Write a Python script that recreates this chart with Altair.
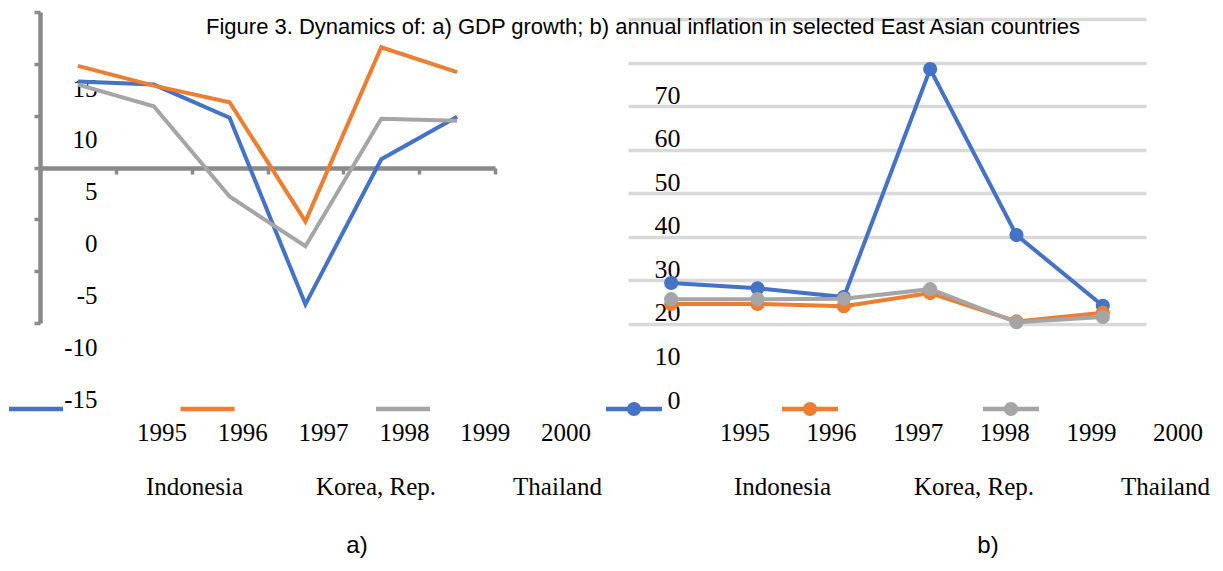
import altair as alt
import pandas as pd

years = [1995, 1996, 1997, 1998, 1999, 2000]
countries = ["Indonesia", "Korea, Rep.", "Thailand"]
colors = ["#4472C4", "#ED7D31", "#A5A5A5"]

# a) GDP growth, %
gdp_indonesia = [8.3, 8.0, 4.8, -13.2, 0.8, 4.9]
gdp_korea = [9.8, 7.9, 6.3, -5.2, 11.6, 9.2]
gdp_thailand = [8.0, 5.9, -2.8, -7.6, 4.7, 4.5]

# b) annual inflation, %
infl_indonesia = [9.4, 8.2, 6.2, 58.5, 20.4, 4.2]
infl_korea = [4.6, 4.6, 4.1, 7.1, 0.6, 2.6]
infl_thailand = [5.7, 5.7, 5.8, 8.0, 0.4, 1.6]

gdp_ticks = [-15, -10, -5, 0, 5, 10, 15]
infl_ticks = [0, 10, 20, 30, 40, 50, 60, 70]
title_text = "Figure 3. Dynamics of: a) GDP growth; b) annual inflation in selected East Asian countries"
panel_labels = ["a)", "b)"]

gdp_df = pd.DataFrame(
    [{"country": c, "year": y, "gdp": v}
     for c, vals in zip(countries, [gdp_indonesia, gdp_korea, gdp_thailand])
     for y, v in zip(years, vals)]
)
infl_df = pd.DataFrame(
    [{"country": c, "year": y, "infl": v}
     for c, vals in zip(countries, [infl_indonesia, infl_korea, infl_thailand])
     for y, v in zip(years, vals)]
)
years_df = pd.DataFrame({"year": years})
countries_df = pd.DataFrame({"country": countries})

W, H = 1207, 555
AX = "#8a8a8a"
SERIF = "Liberation Serif"
SANS = "Liberation Sans"

color_enc = alt.Color("country:N", scale=alt.Scale(domain=countries, range=colors), legend=None)

# ---- panel a) GDP growth
left = alt.Chart(gdp_df).mark_line(strokeWidth=4).encode(
    x=alt.X("year:O",
            scale=alt.Scale(type="band", domain=years, range=[32, 487], paddingInner=0, paddingOuter=0),
            axis=alt.Axis(orient="bottom", offset=160 - H, labels=False, title=None, grid=False,
                          domainColor=AX, domainWidth=4.5, tickColor=AX, tickWidth=3.5, tickSize=6,
                          tickBand="extent")),
    y=alt.Y("gdp:Q",
            scale=alt.Scale(domain=[-15, 15], range=[315, 4], nice=False, zero=False),
            axis=alt.Axis(orient="left", offset=-32, values=gdp_ticks, title=None, grid=False,
                          domainColor=AX, domainWidth=4.5, tickColor=AX, tickWidth=3.5, tickSize=6,
                          labelOffset=76, labelPadding=-63, labelFont=SERIF, labelFontSize=25,
                          labelExpr="'' + datum.value",
                          labelColor="black", labelBound=False, labelOverlap=False, labelFlush=False)),
    color=color_enc,
)

# ---- panel b) inflation
xr = alt.X("year:O",
           scale=alt.Scale(type="band", domain=years, range=[620, 1138], paddingInner=0, paddingOuter=0),
           axis=None)
yr = alt.Y("infl:Q",
           scale=alt.Scale(domain=[0, 70], range=[316, 11], nice=False, zero=False),
           axis=alt.Axis(orient="left", offset=-620, values=infl_ticks, title=None,
                         grid=True, gridColor="#d9d9d9", gridWidth=3.5, domain=False, ticks=False,
                         labelOffset=76, labelPadding=-52, labelFont=SERIF, labelFontSize=26,
                         labelColor="black", labelBound=False, labelOverlap=False, labelFlush=False))
right_layers = []
for c in countries:
    base = alt.Chart(infl_df).transform_filter(alt.datum.country == c).encode(x=xr, y=yr, color=color_enc)
    right_layers.append(base.mark_line(strokeWidth=4))
    right_layers.append(base.mark_point(filled=True, size=200, opacity=1))
right = alt.layer(*right_layers)


def year_row(rng):
    return alt.Chart(years_df).mark_point(opacity=0).encode(
        x=alt.X("year:O",
                scale=alt.Scale(type="band", domain=years, range=rng, paddingInner=0, paddingOuter=0),
                axis=alt.Axis(orient="bottom", offset=424 - H, domain=False, ticks=False, labelPadding=0,
                              labelBaseline="middle", labelAngle=0, labelFont=SERIF, labelFontSize=25,
                              labelColor="black", title=None, grid=False, labelOverlap=False))
    )


def country_row(rng):
    return alt.Chart(countries_df).mark_point(opacity=0).encode(
        x=alt.X("country:N",
                scale=alt.Scale(type="point", domain=countries, range=rng, padding=0),
                axis=alt.Axis(orient="bottom", offset=478 - H, domain=False, ticks=False, labelPadding=0,
                              labelBaseline="middle", labelAngle=0, labelFont=SERIF, labelFontSize=25,
                              labelColor="black", title=None, grid=False, labelOverlap=False,
                              labelLimit=300))
    )


# legend keys (stray legend of the original figure)
left_keys = [28, 199.5, 395]
right_keys = [626, 802, 1003]
keys = []
for i, c in enumerate(countries):
    d = pd.DataFrame({"country": [c]})
    keys.append(alt.Chart(d).mark_rule(strokeWidth=4.5, strokeCap="butt").encode(
        x=alt.value(left_keys[i] - 27), x2=alt.value(left_keys[i] + 27), y=alt.value(401), color=color_enc))
    keys.append(alt.Chart(d).mark_rule(strokeWidth=4.5, strokeCap="butt").encode(
        x=alt.value(right_keys[i] - 28), x2=alt.value(right_keys[i] + 28), y=alt.value(401), color=color_enc))
    keys.append(alt.Chart(d).mark_point(filled=True, size=200, opacity=1).encode(
        x=alt.value(right_keys[i]), y=alt.value(401), color=color_enc))

one = pd.DataFrame({"k": [0]})
title = alt.Chart(one).mark_text(font=SANS, fontSize=22, align="center", baseline="middle", color="black").encode(
    x=alt.value(635), y=alt.value(19), text=alt.value(title_text))
lab_a = alt.Chart(one).mark_text(font=SANS, fontSize=24, align="center", baseline="middle", color="black").encode(
    x=alt.value(349), y=alt.value(538), text=alt.value(panel_labels[0]))
lab_b = alt.Chart(one).mark_text(font=SANS, fontSize=24, align="center", baseline="middle", color="black").encode(
    x=alt.value(980), y=alt.value(538), text=alt.value(panel_labels[1]))

chart = alt.layer(
    right, left,
    year_row([113.6, 598.4]), year_row([693.7, 1213.3]),
    country_row([186, 549]), country_row([774, 1157]),
    *keys, title, lab_a, lab_b,
).resolve_scale(x="independent", y="independent").resolve_axis(
    x="independent", y="independent"
).properties(
    width=W, height=H, autosize=alt.AutoSizeParams(type="none"), padding=0
).configure_view(stroke=None)

chart.save("out.html", embed_options={"renderer": "svg", "actions": False})
